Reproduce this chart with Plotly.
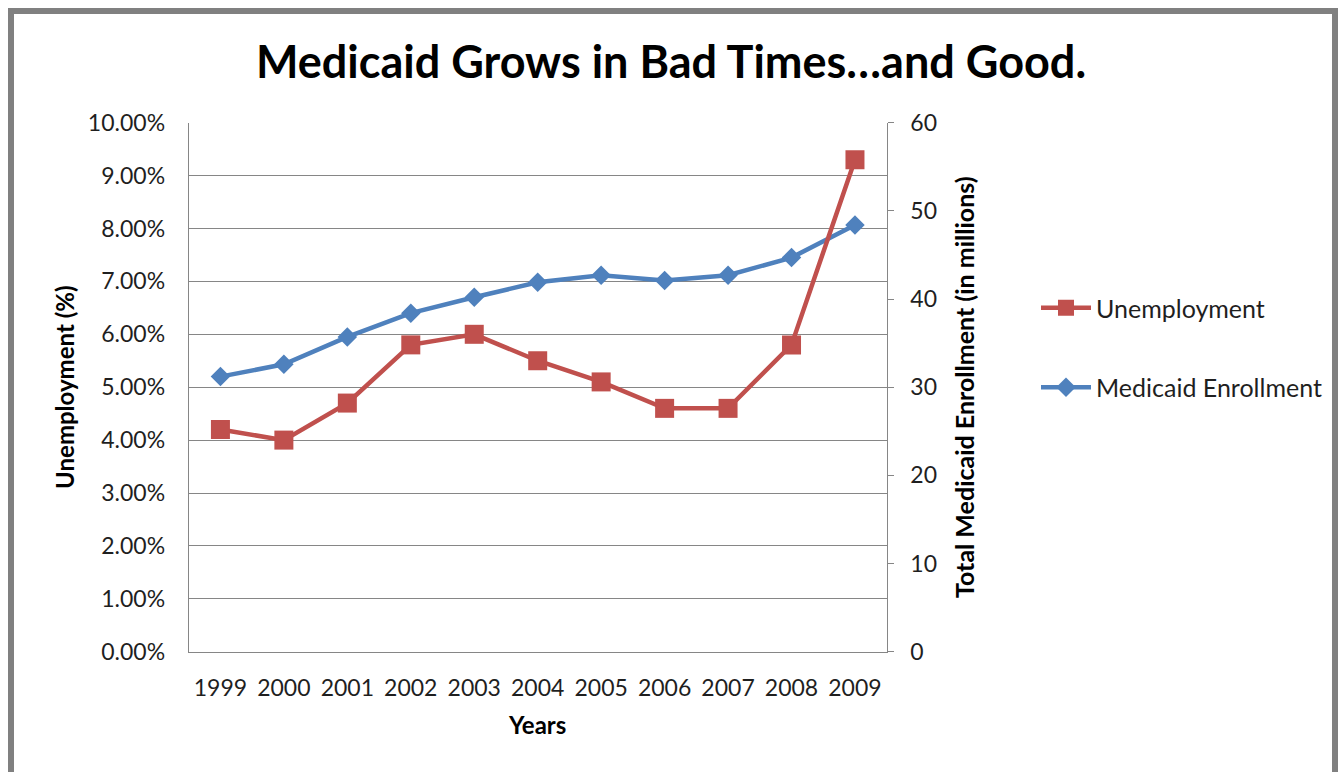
import plotly.graph_objects as go

# Chart data
years = ["1999", "2000", "2001", "2002", "2003", "2004", "2005", "2006", "2007", "2008", "2009"]
unemployment = [4.2, 4.0, 4.7, 5.8, 6.0, 5.5, 5.1, 4.6, 4.6, 5.8, 9.3]          # percent
medicaid_enrollment = [31.2, 32.6, 35.7, 38.4, 40.2, 41.9, 42.7, 42.1, 42.7, 44.7, 48.4]  # millions

left_ticks = [0, 1, 2, 3, 4, 5, 6, 7, 8, 9, 10]
left_tick_text = [f"{v:.2f}%" for v in left_ticks]
right_ticks = [0, 10, 20, 30, 40, 50, 60]

W, H = 1342, 772
FONT = "Lato, Carlito, Calibri, sans-serif"
RED = "#C0504D"
BLUE = "#4F81BD"
GRID = "#868686"
TXT = "#1f1f1f"
TICK_SIZE = 23
TITLE_SIZE = 24


def px_x(x):
    return x / W


def px_y(y):
    return 1 - y / H


fig = go.Figure()

# Medicaid enrollment on the right-hand axis (base subplot)
fig.add_trace(go.Scatter(
    x=years, y=medicaid_enrollment, name="Medicaid Enrollment",
    mode="lines+markers", yaxis="y", legendrank=2, legendgroup="b",
    line=dict(color=BLUE, width=4.5),
    marker=dict(symbol="diamond", size=15, color=BLUE),
))

# Unemployment on the left-hand axis (overlay, drawn on top)
fig.add_trace(go.Scatter(
    x=years, y=unemployment, name="Unemployment",
    mode="lines+markers", yaxis="y2", legendrank=1, legendgroup="a",
    line=dict(color=RED, width=4.5),
    marker=dict(symbol="square", size=19, color=RED),
))

x0, x1 = px_x(188.7), px_x(886.7)
yb, yt = px_y(651.7), px_y(122.7)

fig.update_layout(
    width=W, height=H,
    margin=dict(l=0, r=0, t=0, b=0, autoexpand=False),
    paper_bgcolor="white", plot_bgcolor="white",
    font=dict(family=FONT, color=TXT, size=TICK_SIZE),
    showlegend=True,
    title=dict(
        text="<b>Medicaid Grows in Bad Times…and Good.</b>",
        x=0.5, xanchor="center", y=px_y(62), yanchor="middle",
        font=dict(family=FONT, size=45, color="black"),
    ),
    xaxis=dict(
        type="category", domain=[x0, x1], range=[-0.5, 10.5],
        automargin=False,
        showgrid=False, zeroline=False,
        showline=True, linecolor=GRID, linewidth=1,
        ticks="", ticklabelstandoff=16,
        tickfont=dict(size=TICK_SIZE, color=TXT),
        title=dict(text="<b>Years</b>", font=dict(size=TITLE_SIZE, color="black"), standoff=16),
    ),
    yaxis=dict(
        side="right", range=[0, 60], tickvals=right_ticks,
        domain=[yb, yt], anchor="x", automargin=False,
        showgrid=False, zeroline=False,
        showline=True, linecolor=GRID, linewidth=1,
        ticks="outside", ticklen=6, tickcolor=GRID, ticklabelstandoff=12,
        tickfont=dict(size=TICK_SIZE, color=TXT),
        title=dict(text="<b>Total Medicaid Enrollment (in millions)</b>",
                   font=dict(size=25, color="black"), standoff=20),
    ),
    yaxis2=dict(
        side="left", overlaying="y", anchor="x", range=[0, 10],
        automargin=False,
        tickvals=left_ticks, ticktext=left_tick_text,
        showgrid=True, gridcolor=GRID, gridwidth=1, zeroline=False,
        showline=True, linecolor=GRID, linewidth=1,
        ticks="", ticklabelstandoff=18,
        tickfont=dict(size=TICK_SIZE, color=TXT),
        title=dict(text="<b>Unemployment (%)</b>",
                   font=dict(size=TITLE_SIZE, color="black"), standoff=6),
    ),
    legend=dict(
        x=px_x(1036), xanchor="left", y=px_y(285), yanchor="top",
        bgcolor="rgba(0,0,0,0)", borderwidth=0,
        font=dict(size=25, color=TXT),
        tracegroupgap=44, itemwidth=50,
    ),
)

# Outer chart frame (thick gray border on top, left and right)
frame = dict(type="line", xref="paper", yref="paper",
             line=dict(color="#808080", width=6))
fig.add_shape(**frame, x0=px_x(11), x1=px_x(11), y0=0, y1=px_y(8))
fig.add_shape(**frame, x0=px_x(8), x1=px_x(1338), y0=px_y(11), y1=px_y(11))
fig.add_shape(**frame, x0=px_x(1335), x1=px_x(1335), y0=0, y1=px_y(8))

fig.write_html("out.html")
